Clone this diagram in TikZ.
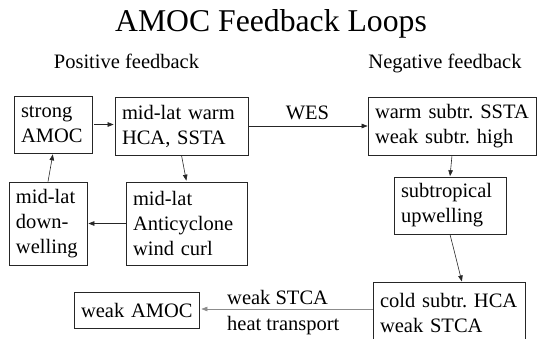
\documentclass[tikz,border=0pt]{standalone}
\usepackage{fontspec}
\setmainfont{Liberation Serif}
\usetikzlibrary{arrows.meta}
\begin{document}
\begin{tikzpicture}[x=1pt,y=-1pt,
  bx/.style={draw=black!85, line width=0.7pt, align=left, inner xsep=7pt, inner ysep=0pt,
             font=\fontsize{20.5pt}{25pt}\selectfont},
  lbl/.style={font=\fontsize{20.5pt}{25pt}\selectfont, inner sep=0pt},
  arr/.style={line width=0.6pt, draw=black!85, -{Triangle[length=6pt,width=4.5pt]}},
  garr/.style={arr, draw=black!45}]
\useasboundingbox (0,0) rectangle (537,339);
\clip (0,0) rectangle (537,339);
% titles
\node[font=\fontsize{31.7pt}{38pt}\selectfont, anchor=base, inner sep=0pt] (title) at (271,32) {AMOC Feedback Loops};
\node[lbl, anchor=base] (pos) at (126.5,69) {Positive feedback};
\node[lbl, anchor=base] (neg) at (445,69) {Negative feedback};
% positive loop
\node[bx, text width=64pt, minimum height=57pt] (sa) at (53,124.5) {strong\\AMOC};
\node[bx, text width=119pt, minimum height=58pt] (mw) at (181.5,126) {mid-lat~warm\\HCA,~SSTA};
\node[bx, text width=64pt, minimum height=83pt] (dw) at (48,223.5) {mid-lat\\down-\\welling};
\node[bx, text width=107pt, minimum height=83pt] (ac) at (186.5,223.5) {mid-lat\\Anticyclone\\wind~curl};
% negative loop
\node[bx, text width=154pt, minimum height=58pt] (ws) at (452,126) {warm~subtr.~SSTA\\weak~subtr.~high};
\node[bx, text width=98pt, minimum height=57pt] (su) at (450,205.5) {subtropical\\upwelling};
\node[bx, text width=138pt, anchor=north, inner ysep=11pt] (cs) at (449,282) {cold~subtr.~HCA\\weak~STCA};
\node[bx, text width=111pt, minimum height=36pt] (wa) at (136.5,310) {weak~AMOC};
% labels
\node[lbl, anchor=base] (wes) at (307.5,120) {WES};
\node[lbl, anchor=base west] (l1) at (227,304) {weak STCA};
\node[lbl, anchor=base west] (l2) at (227,330) {heat transport};
% connectors
\draw[arr, shorten <=2pt, shorten >=1pt] (sa.east) -- (sa.east -| mw.west);
\draw[arr, shorten >=1pt] (mw.south) -- (ac.north);
\draw[arr, shorten >=1pt] (ac.west) -- (dw.east);
\draw[arr, shorten >=1pt] (dw.north) -- (sa.south);
\draw[arr] (mw.east) -- (ws.west);
\draw[arr, shorten >=0.5pt] (ws.south) -- (su.north);
\draw[arr, shorten >=0.5pt] (su.south) -- ([xshift=13pt]cs.north);
\coordinate (cw) at ([yshift=-27pt]cs.north west);
\draw[garr, shorten >=2pt] (cw) -- (cw -| wa.east);
\end{tikzpicture}
\end{document}
